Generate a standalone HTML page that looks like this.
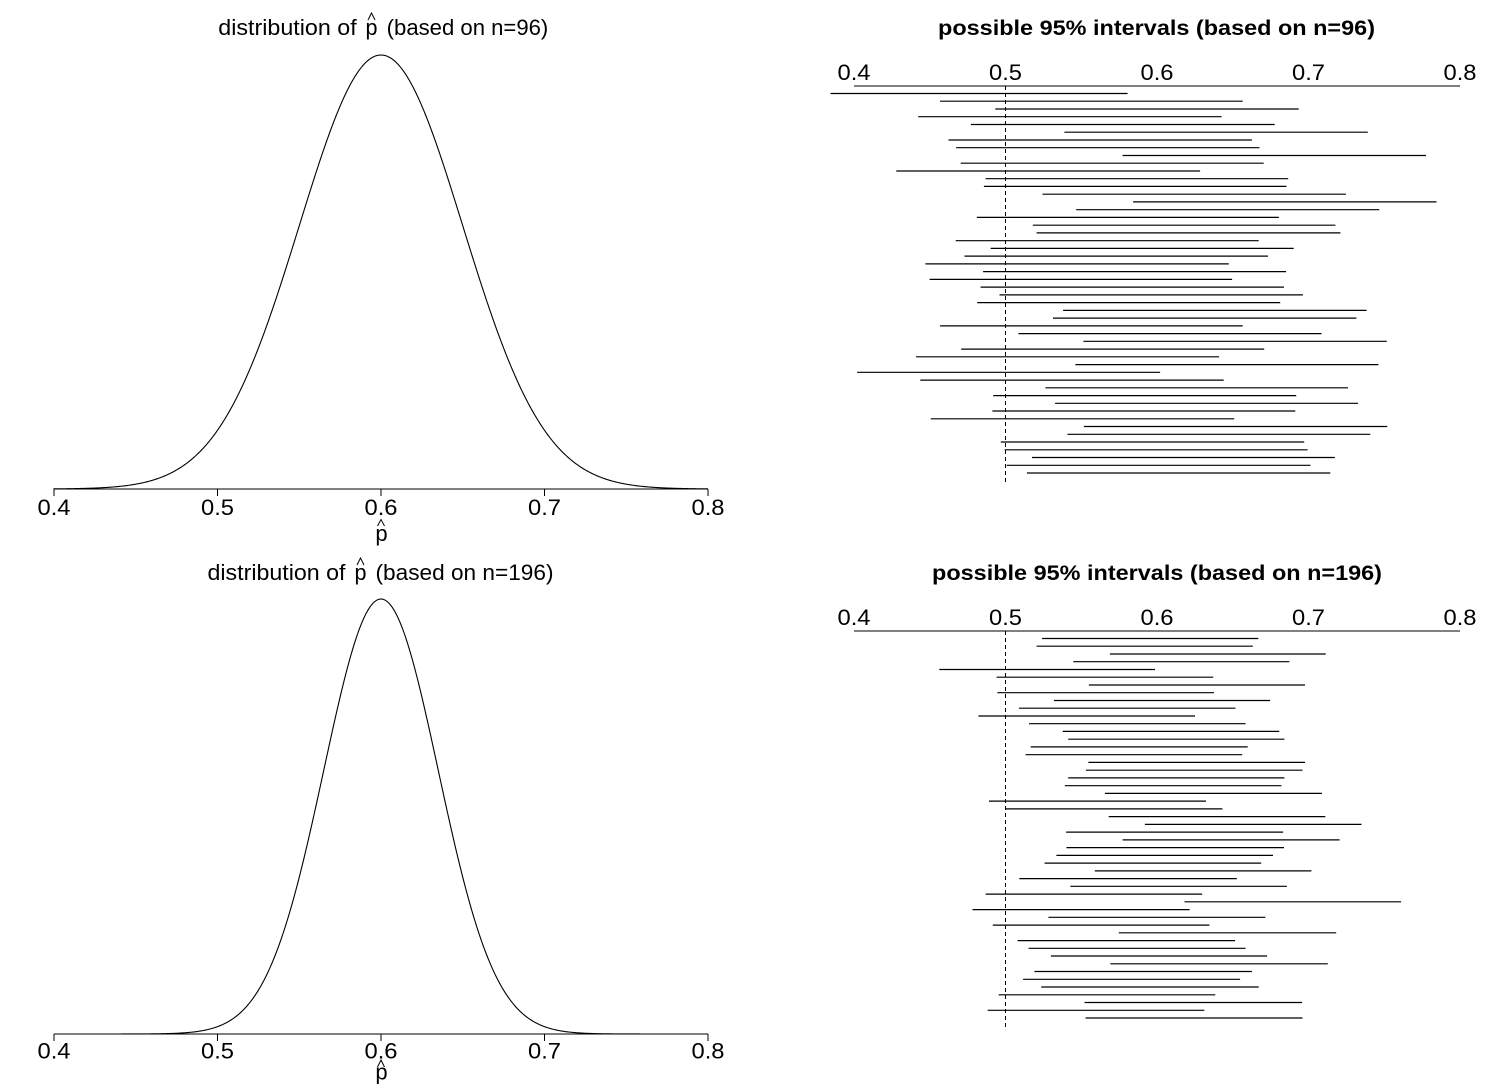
<!DOCTYPE html>
<html>
<head>
<meta charset="utf-8">
<style>
html,body{margin:0;padding:0;background:#fff}
svg{display:block}
text{font-family:"Liberation Sans",Helvetica,Arial,sans-serif;fill:#000}
</style>
</head>
<body>
<svg width="1493" height="1091" viewBox="0 0 1493 1091" xmlns="http://www.w3.org/2000/svg">
<rect width="1493" height="1091" fill="#fff"/>

<text x="218.3" y="35" font-size="22" textLength="138.4" lengthAdjust="spacingAndGlyphs">distribution of</text>
<text x="365.5" y="35" font-size="22" textLength="12" lengthAdjust="spacingAndGlyphs">p</text>
<text x="386.7" y="35" font-size="22" textLength="161.6" lengthAdjust="spacingAndGlyphs">(based on n=96)</text>
<text x="207.5" y="580" font-size="22" textLength="138" lengthAdjust="spacingAndGlyphs">distribution of</text>
<text x="354.5" y="580" font-size="22" textLength="12" lengthAdjust="spacingAndGlyphs">p</text>
<text x="375.5" y="580" font-size="22" textLength="178" lengthAdjust="spacingAndGlyphs">(based on n=196)</text>
<text x="381.5" y="541" font-size="22" text-anchor="middle">p</text>
<text x="381.5" y="1079.5" font-size="22" text-anchor="middle">p</text>

<path fill="none" stroke="#000" stroke-width="1" d="M368,20L371.5,13L375,20M357,565L360.5,558L364,565M377.5,526L381,519.5L384.5,526M377.5,1067L381,1060L384.5,1067"/>

<path id="curve1" fill="none" stroke="#000" stroke-width="1.1" d="M54,488.85L74.44,488.6L94.87,488.05L115.31,486.8L135.75,484.2L156.19,479.1L176.62,469.9L197.06,454.5L217.5,430.3L237.94,395.1L258.37,348.1L278.81,290.3L299.25,225.8L319.69,161.4L340.12,106L360.56,68.35L381,55L401.44,68.35L421.88,106L442.31,161.4L462.75,225.8L483.19,290.3L503.63,348.1L524.06,395.1L544.5,430.3L564.94,454.5L585.38,469.9L605.81,479.1L626.25,484.2L646.69,486.8L667.13,488.05L687.56,488.6L708,488.85"/>
<path id="curve2" fill="none" stroke="#000" stroke-width="1.1" d="M54,1034L152.1,1033.85L166.41,1033.6L180.71,1033.05L195.02,1031.8L209.32,1029.2L223.63,1024.1L237.94,1014.9L252.24,999.4L266.55,975.1L280.86,939.9L295.16,892.8L309.47,834.8L323.77,770.2L338.08,705.6L352.39,650.1L366.69,612.4L381,599L395.31,612.4L409.61,650.1L423.92,705.6L438.23,770.2L452.53,834.8L466.84,892.8L481.14,939.9L495.45,975.1L509.76,999.4L524.06,1014.9L538.37,1024.1L552.68,1029.2L566.98,1031.8L581.29,1033.05L595.59,1033.6L609.9,1033.85L708,1034"/>

<path fill="none" stroke="#000" stroke-width="1" d="M54,489H708M54,489V496M217.5,489V496M381,489V496M544.5,489V496M708,489V496M54,1034H708M54,1034V1041M217.5,1034V1041M381,1034V1041M544.5,1034V1041M708,1034V1041M854,86H1460M854,631H1460"/>

<g font-size="22" text-anchor="middle">
<text x="54" y="515" textLength="33" lengthAdjust="spacingAndGlyphs">0.4</text>
<text x="217.5" y="515" textLength="33" lengthAdjust="spacingAndGlyphs">0.5</text>
<text x="381" y="515" textLength="33" lengthAdjust="spacingAndGlyphs">0.6</text>
<text x="544.5" y="515" textLength="33" lengthAdjust="spacingAndGlyphs">0.7</text>
<text x="708" y="515" textLength="33" lengthAdjust="spacingAndGlyphs">0.8</text>
<text x="54" y="1058.5" textLength="33" lengthAdjust="spacingAndGlyphs">0.4</text>
<text x="217.5" y="1058.5" textLength="33" lengthAdjust="spacingAndGlyphs">0.5</text>
<text x="381" y="1058.5" textLength="33" lengthAdjust="spacingAndGlyphs">0.6</text>
<text x="544.5" y="1058.5" textLength="33" lengthAdjust="spacingAndGlyphs">0.7</text>
<text x="708" y="1058.5" textLength="33" lengthAdjust="spacingAndGlyphs">0.8</text>
<text x="854" y="80" textLength="33" lengthAdjust="spacingAndGlyphs">0.4</text>
<text x="1005.5" y="80" textLength="33" lengthAdjust="spacingAndGlyphs">0.5</text>
<text x="1157" y="80" textLength="33" lengthAdjust="spacingAndGlyphs">0.6</text>
<text x="1308.5" y="80" textLength="33" lengthAdjust="spacingAndGlyphs">0.7</text>
<text x="1460" y="80" textLength="33" lengthAdjust="spacingAndGlyphs">0.8</text>
<text x="854" y="625" textLength="33" lengthAdjust="spacingAndGlyphs">0.4</text>
<text x="1005.5" y="625" textLength="33" lengthAdjust="spacingAndGlyphs">0.5</text>
<text x="1157" y="625" textLength="33" lengthAdjust="spacingAndGlyphs">0.6</text>
<text x="1308.5" y="625" textLength="33" lengthAdjust="spacingAndGlyphs">0.7</text>
<text x="1460" y="625" textLength="33" lengthAdjust="spacingAndGlyphs">0.8</text>
</g>

<text x="1156.5" y="35" font-size="21" font-weight="bold" text-anchor="middle" textLength="437" lengthAdjust="spacingAndGlyphs">possible 95% intervals (based on n=96)</text>
<text x="1157" y="580" font-size="21" font-weight="bold" text-anchor="middle" textLength="450" lengthAdjust="spacingAndGlyphs">possible 95% intervals (based on n=196)</text>

<path fill="none" stroke="#000" stroke-width="1" stroke-dasharray="4,3" d="M1005.5,86V482M1005.5,631V1027"/>

<path fill="none" stroke="#000" stroke-width="1.2" d="M830.5,93.5H1127.6M940.1,101.2H1242.7M995.3,109H1298.7M918.2,116.7H1221.6M970.9,124.5H1274.7M1064.4,132.2H1367.8M948.5,140H1251.9M956.1,147.7H1259.5M1122.6,155.5H1426M960.7,163.2H1263.7M896.3,171H1200.1M985.6,178.7H1288.2M983.9,186.4H1286.5M1042.5,194.2H1345.9M1133.1,201.9H1436.5M1076.2,209.7H1379.2M976.8,217.4H1278.9M1032.8,225.2H1335.4M1036.6,232.9H1340.4M955.7,240.7H1258.7M990.7,248.4H1293.7M964.5,256.1H1267.9M925.4,263.9H1228.8M983.1,271.6H1286.1M929.6,279.4H1232.1M980.6,287.1H1284M999.5,294.9H1302.9M977.2,302.6H1280.2M1063.1,310.4H1366.6M1053,318.1H1356.4M940.1,325.9H1242.7M1018.5,333.6H1321.5M1083.4,341.3H1386.8M961.2,349.1H1264.2M916.1,356.8H1219.1M1075.4,364.6H1378.4M857.1,372.3H1160.1M920.3,380.1H1223.7M1045.4,387.8H1348M993.2,395.6H1296.2M1055.1,403.3H1358.1M992.4,411H1295.3M930.8,418.8H1234.2M1083.8,426.5H1387.2M1067.4,434.3H1370.3M1000.8,442H1304.2M1004.6,449.8H1307.6M1032,457.5H1334.9M1006.7,465.3H1310.5M1026.9,473H1330.3"/>

<path fill="none" stroke="#000" stroke-width="1.2" d="M1042.1,638.5H1258.3M1036.6,646.2H1252.8M1109.9,654H1325.7M1073.3,661.7H1289.4M939.3,669.5H1155M996.6,677.2H1213.2M1088.9,685H1305M997.4,692.7H1214M1053.9,700.5H1270.1M1018.9,708.2H1235.5M978.4,716H1195M1029,723.7H1245.6M1062.7,731.4H1279.3M1068.2,739.2H1284.4M1030.7,746.9H1247.7M1025.6,754.7H1242.2M1088.4,762.4H1305M1085.9,770.2H1302.5M1068.2,777.9H1284.4M1064.8,785.7H1281.4M1104.9,793.4H1321.9M989,801.1H1206M1005.8,808.9H1222.4M1108.7,816.6H1325.3M1144.9,824.4H1361.5M1066.1,832.1H1283.1M1122.6,839.9H1339.6M1066.5,847.6H1284M1056.4,855.4H1273M1044.6,863.1H1261.2M1094.8,870.9H1311.4M1019.3,878.6H1236.8M1070.3,886.3H1286.9M985.6,894.1H1202.2M1184.5,901.8H1401.1M972.5,909.6H1189.6M1048.4,917.3H1265.4M992.8,925.1H1209.4M1118.8,932.8H1336.2M1017.6,940.6H1235.1M1028.6,948.3H1245.6M1050.9,956H1267.1M1110.3,963.8H1327.8M1034.5,971.5H1251.9M1023.1,979.3H1240.1M1041.2,987H1258.7M998.7,994.8H1215.3M1084.6,1002.5H1302.1M987.7,1010.3H1204.3M1085.5,1018H1302.5"/>
</svg>
<script>
(function(){
function build(id,base,H,k){
var d="M54,"+base;
for(var x=54;x<=708;x++){var z=(x-381)/k;d+="L"+x+","+(base-H*Math.exp(-z*z/2)).toFixed(2);}
var el=document.getElementById(id);if(el)el.setAttribute("d",d);}
build("curve1",489,434,81.75);
build("curve2",1034,435,57.225);
})();
</script>
</body>
</html>
